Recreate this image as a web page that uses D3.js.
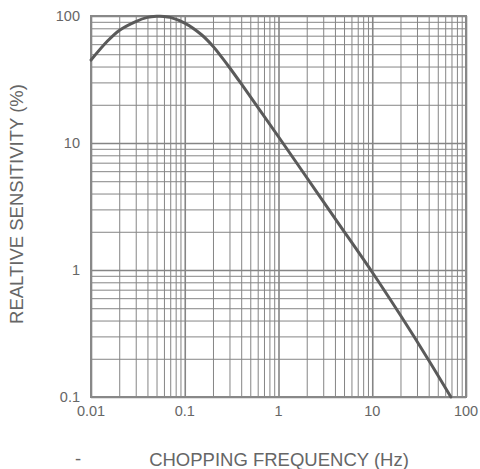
<!DOCTYPE html>
<html>
<head>
<meta charset="utf-8">
<script src="https://cdn.jsdelivr.net/npm/d3@7"></script>
<style>
  body { margin: 0; background: #fff; }
  svg { display: block; font-family: "Liberation Sans", Arial, sans-serif; }
  .grid line { stroke: #858585; stroke-width: 1; }
  .grid .domain { display: none; }
  .tickLabel { fill: #666; font-size: 14.5px; }
  .axisTitle { fill: #666; font-size: 18.5px; }
</style>
</head>
<body>
<script>
// values
var freqHz      = [0.01, 0.015, 0.02, 0.03, 0.04, 0.05, 0.06, 0.07, 0.1, 0.15, 0.2, 0.25, 0.3, 0.4, 0.6, 1, 2, 4, 10, 20, 40, 69];
var sensitivity = [45, 63.5, 77, 90.5, 97.5, 99.4, 99.3, 97.5, 88, 71.5, 57.8, 47, 39.3, 29.3, 19.2, 11.2, 5.35, 2.55, 0.96, 0.44, 0.195, 0.1];
var xTickLabels = ["0.01", "0.1", "1", "10", "100"];
var yTickLabels = ["0.1", "1", "10", "100"];

var width = 480, height = 469;
var margin = {top: 16, right: 14, bottom: 72, left: 91};
var w = width - margin.left - margin.right;
var h = height - margin.top - margin.bottom;

var svg = d3.select("body").append("svg")
    .attr("width", width)
    .attr("height", height);

var g = svg.append("g")
    .attr("transform", "translate(" + margin.left + "," + margin.top + ")");

var xScale = d3.scaleLog().domain([0.01, 100]).range([0, w]);
var yScale = d3.scaleLog().domain([0.1, 100]).range([h, 0]);

function isDecade(d) {
  return Math.abs(Math.log10(d) - Math.round(Math.log10(d))) < 1e-6;
}

// grid (1..9 per decade)
g.append("g")
    .attr("class", "grid")
    .attr("transform", "translate(0," + h + ")")
    .call(d3.axisBottom(xScale).tickSize(-h).tickFormat(""))
    .selectAll("line")
    .style("stroke-width", function(d) { return isDecade(d) ? 1.6 : 1; });

g.append("g")
    .attr("class", "grid")
    .call(d3.axisLeft(yScale).tickSize(-w).tickFormat(""))
    .selectAll("line")
    .style("stroke-width", function(d) { return isDecade(d) ? 1.6 : 1; });

// frame
g.append("rect")
    .attr("x", 0).attr("y", 0)
    .attr("width", w).attr("height", h)
    .attr("fill", "none")
    .attr("stroke", "#888")
    .attr("stroke-width", 2);

// curve
var data = freqHz.map(function(f, i) { return {f: f, v: sensitivity[i]}; });
var line = d3.line()
    .x(function(d) { return xScale(d.f); })
    .y(function(d) { return yScale(d.v); })
    .curve(d3.curveCatmullRom.alpha(0.5));

g.append("path")
    .datum(data)
    .attr("d", line)
    .attr("fill", "none")
    .attr("stroke", "#5a5a5a")
    .attr("stroke-width", 3)
    .attr("stroke-linecap", "round");

// tick labels
g.selectAll(".xLabel")
    .data(xTickLabels)
    .enter().append("text")
    .attr("class", "tickLabel")
    .attr("x", function(d) { return xScale(+d); })
    .attr("y", h + 19)
    .attr("text-anchor", "middle")
    .text(function(d) { return d; });

g.selectAll(".yLabel")
    .data(yTickLabels)
    .enter().append("text")
    .attr("class", "tickLabel")
    .attr("x", -11)
    .attr("y", function(d) { return yScale(+d); })
    .attr("dy", "0.35em")
    .attr("text-anchor", "end")
    .text(function(d) { return d; });

// axis titles
svg.append("text")
    .attr("class", "axisTitle")
    .attr("x", 279)
    .attr("y", 466)
    .attr("text-anchor", "middle")
    .text("CHOPPING FREQUENCY (Hz)");

svg.append("text")
    .attr("class", "axisTitle")
    .attr("x", 78)
    .attr("y", 465)
    .attr("text-anchor", "middle")
    .text("-");

svg.append("text")
    .attr("class", "axisTitle")
    .attr("transform", "translate(23,204) rotate(-90)")
    .attr("text-anchor", "middle")
    .text("REALTIVE SENSITIVITY (%)");
</script>
</body>
</html>
